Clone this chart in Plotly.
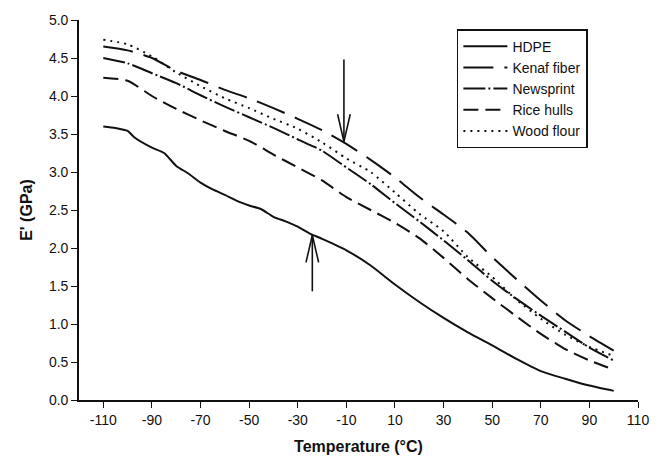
import plotly.graph_objects as go

# ---- data ----
temps = [-110, -100, -90, -80, -70, -60, -50, -40, -30, -20, -10, 0,
         10, 20, 30, 40, 50, 60, 70, 80, 90, 100]

hdpe_t = [-110, -105, -100, -97, -90, -85, -80, -75, -70, -65, -60, -55, -50,
          -45, -40, -35, -30, -25, -20, -10, 0, 10, 20, 30, 40, 50, 60, 70,
          80, 90, 100]
hdpe = [3.60, 3.58, 3.54, 3.45, 3.32, 3.25, 3.08, 2.98, 2.86, 2.77, 2.70, 2.62,
        2.56, 2.51, 2.41, 2.35, 2.28, 2.19, 2.12, 1.97, 1.77, 1.52, 1.29, 1.08,
        0.89, 0.72, 0.54, 0.38, 0.28, 0.19, 0.12]

kenaf = [4.65, 4.60, 4.50, 4.33, 4.21, 4.08, 3.97, 3.84, 3.70, 3.55, 3.37, 3.16,
         2.93, 2.67, 2.44, 2.20, 1.88, 1.59, 1.31, 1.05, 0.84, 0.65]
newsprint = [4.50, 4.43, 4.30, 4.17, 4.01, 3.86, 3.72, 3.58, 3.43, 3.28, 3.06,
             2.84, 2.59, 2.35, 2.10, 1.84, 1.57, 1.33, 1.11, 0.90, 0.69, 0.52]
rice_hulls = [4.24, 4.20, 4.00, 3.83, 3.68, 3.54, 3.41, 3.23, 3.06, 2.89, 2.67,
              2.50, 2.33, 2.13, 1.87, 1.59, 1.34, 1.10, 0.87, 0.67, 0.52, 0.40]
wood_flour = [4.74, 4.68, 4.52, 4.31, 4.13, 3.97, 3.84, 3.70, 3.57, 3.39, 3.18,
              3.00, 2.73, 2.45, 2.22, 1.88, 1.62, 1.32, 1.07, 0.86, 0.70, 0.58]

# arrows: temperature, tip value, tail value
arrow_temp = [-11, -24]
arrow_tip = [3.40, 2.17]
arrow_tail = [4.48, 1.43]

x_ticks = list(range(-110, 111, 20))
y_ticks = [0.0, 0.5, 1.0, 1.5, 2.0, 2.5, 3.0, 3.5, 4.0, 4.5, 5.0]

# ---- styling ----
FONT = "Arial, Liberation Sans, sans-serif"
INK = "#111111"
BARB_DT = 2.6     # half width of arrow barbs (deg C)
BARB_DE = 0.36    # length of arrow barbs (GPa)

fig = go.Figure()

series = [
    ("HDPE", hdpe_t, hdpe, "solid"),
    ("Kenaf fiber", temps, kenaf, "30px,11px"),
    ("Newsprint", temps, newsprint, "22px,3px,2px,3px"),
    ("Rice hulls", temps, rice_hulls, "15px,7px"),
    ("Wood flour", temps, wood_flour, "2px,5px"),
]
for name, xs, ys, dash in series:
    fig.add_trace(go.Scatter(
        x=xs, y=ys, name=name, mode="lines",
        line=dict(color=INK, width=2, dash=dash, shape="spline", smoothing=0.6),
    ))

# arrows built from the arrow data
ax_x, ax_y = [], []
for t, tip, tail in zip(arrow_temp, arrow_tip, arrow_tail):
    sgn = 1 if tail > tip else -1
    ax_x += [t, t, None, t - BARB_DT, t, t + BARB_DT, None]
    ax_y += [tail, tip, None, tip + sgn * BARB_DE, tip, tip + sgn * BARB_DE, None]
fig.add_trace(go.Scatter(x=ax_x, y=ax_y, mode="lines", showlegend=False,
                         line=dict(color=INK, width=1.6), hoverinfo="skip"))

fig.update_layout(
    width=664, height=469,
    margin=dict(l=79, r=26, t=15, b=69),
    paper_bgcolor="white", plot_bgcolor="white",
    font=dict(family=FONT, size=14, color=INK),
    showlegend=True,
    legend=dict(x=0.676, y=0.976, xanchor="left", yanchor="top",
                bgcolor="white", bordercolor=INK, borderwidth=1.5,
                font=dict(size=14, family=FONT, color=INK),
                itemwidth=44, tracegroupgap=2),
)
fig.update_xaxes(
    range=[-120, 110], tickvals=x_ticks, ticktext=[str(v) for v in x_ticks],
    showline=True, linecolor=INK, linewidth=1.6, mirror=False,
    ticks="outside", ticklen=6, tickwidth=1.4, tickcolor=INK,
    showgrid=False, zeroline=False,
    tickfont=dict(size=14, family=FONT, color=INK),
    title=dict(text="<b>Temperature (°C)</b>", font=dict(size=16), standoff=14),
)
fig.update_yaxes(
    range=[0, 5], tickvals=y_ticks, ticktext=[f"{v:.1f}" for v in y_ticks],
    showline=True, linecolor=INK, linewidth=1.6, mirror=False,
    ticks="outside", ticklen=6, tickwidth=1.4, tickcolor=INK,
    showgrid=False, zeroline=False,
    tickfont=dict(size=14, family=FONT, color=INK),
    title=dict(text="<b>E' (GPa)</b>", font=dict(size=16), standoff=12),
)

fig.write_html("out.html")
